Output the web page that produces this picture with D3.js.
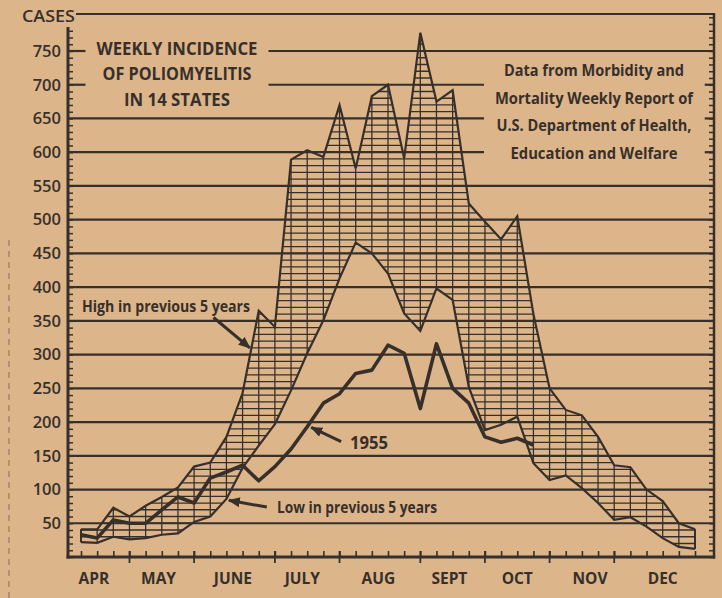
<!DOCTYPE html>
<html>
<head>
<meta charset="utf-8">
<script src="https://cdn.jsdelivr.net/npm/d3@7"></script>
<style>
  body { margin: 0; background: #ddb58b; }
  svg { display: block; }
  text { font-family: "Open Sans", "DejaVu Sans", sans-serif; fill: #37302a; }
</style>
</head>
<body>
<div id="chart"></div>
<script>
// weekly polio cases in 14 states, one value per week from early April to end of December
var weekIndex = d3.range(39);
var highPrev = [41, 41, 73, 60, 76, 89, 103, 134, 140, 178, 243, 365, 341, 589, 603, 593, 670, 576, 683, 700,
                591, 777, 675, 692, 524, 497, 471, 505, 360, 250, 218, 210, 178, 136, 133, 100, 83, 50, 41];
var lowPrev = [22, 21, 30, 26, 28, 33, 35, 52, 60, 86, 132, 165, 197, 247, 302, 351, 413, 466, 450, 420,
               361, 335, 398, 381, 252, 188, 196, 208, 139, 114, 121, 102, 80, 55, 59, 45, 28, 15, 12];
// 1955 only reported up to mid October
var cases1955 = [33, 28, 55, 50, 50, 70, 89, 80, 117, 126, 136, 113, 134, 160, 193, 228, 242, 272, 277, 314,
                 302, 220, 316, 250, 228, 178, 170, 176, 166];

var monthNames = ["APR", "MAY", "JUNE", "JULY", "AUG", "SEPT", "OCT", "NOV", "DEC"];
var monthCenters = [0.8, 4.8, 9.4, 13.7, 18.4, 22.8, 27.0, 31.5, 36.0];   // in weeks
var monthBreaks = [3, 7, 12, 16, 21, 25, 29, 33];
var caseTicks = d3.range(50, 751, 50);

var titleLines = ["WEEKLY INCIDENCE", "OF POLIOMYELITIS", "IN 14 STATES"];
var sourceLines = ["Data from Morbidity and", "Mortality Weekly Report of", "U.S. Department of Health,", "Education and Welfare"];

Polio = function(_parentElement) {
  this.parentElement = _parentElement;
  this.width = 722;
  this.height = 598;
  this.ink = "#37302a";
  this.paper = "#ddb58b";
  this.initVis();
};

Polio.prototype.initVis = function() {
  var vis = this;

  vis.x = d3.scaleLinear()
  .domain([0, 38])
  .range([81, 695]);

  vis.y = d3.scaleLinear()
  .domain([0, 750])
  .range([557, 51]);

  vis.left = 68;
  vis.right = 714;
  vis.top = 14;
  vis.bottom = vis.y(0);

  vis.band = d3.area()
  .x(function(d, i) { return vis.x(i); })
  .y0(function(d, i) { return vis.y(lowPrev[i]); })
  .y1(function(d) { return vis.y(d); });

  vis.line = d3.line()
  .x(function(d, i) { return vis.x(i); })
  .y(function(d) { return vis.y(d); });

  vis.createVis();
};

Polio.prototype.createVis = function() {
  var vis = this;

  vis.svg = d3.select(vis.parentElement).append("svg")
  .attr("width", vis.width)
  .attr("height", vis.height);

  vis.svg.append("rect")
  .attr("width", vis.width)
  .attr("height", vis.height)
  .attr("fill", vis.paper);

  // newspaper fold on the left edge
  vis.svg.append("line")
  .attr("x1", 9).attr("x2", 9)
  .attr("y1", 240).attr("y2", vis.height)
  .attr("stroke", vis.ink)
  .attr("stroke-opacity", 0.35)
  .attr("stroke-width", 1.5)
  .attr("stroke-dasharray", "6 5");

  // text blocks first, so the grid can stop around them
  var title = vis.svg.append("g").attr("class", "title");
  title.selectAll("text")
  .data(titleLines).enter()
  .append("text")
  .attr("x", 177)
  .attr("y", function(d, i) { return [55, 80, 106][i]; })
  .attr("text-anchor", "middle")
  .attr("font-size", 18)
  .attr("font-weight", 700)
  .attr("textLength", function(d, i) { return [161, 149, 106][i]; })
  .attr("lengthAdjust", "spacingAndGlyphs")
  .text(function(d) { return d; });

  var source = vis.svg.append("g").attr("class", "source");
  source.selectAll("text")
  .data(sourceLines).enter()
  .append("text")
  .attr("x", 594)
  .attr("y", function(d, i) { return 76 + i * 27.7; })
  .attr("text-anchor", "middle")
  .attr("font-size", 16)
  .attr("font-weight", 700)
  .attr("textLength", function(d, i) { return [180, 198, 195, 167][i]; })
  .attr("lengthAdjust", "spacingAndGlyphs")
  .text(function(d) { return d; });

  var gaps = [title.node().getBBox(), source.node().getBBox()];

  var grid = vis.svg.append("g").attr("class", "grid");
  caseTicks.forEach(function(v) {
    var yy = vis.y(v);
    var segs = [[vis.left, vis.right]];
    gaps.forEach(function(b) {
      if (yy > b.y - 4 && yy < b.y + b.height + 4) {
        var g0 = b.x - 11, g1 = b.x + b.width + 11;
        var next = [];
        segs.forEach(function(s) {
          if (g1 <= s[0] || g0 >= s[1]) { next.push(s); return; }
          if (g0 > s[0]) next.push([s[0], g0]);
          if (g1 < s[1]) next.push([g1, s[1]]);
        });
        segs = next;
      }
    });
    segs.forEach(function(s) {
      grid.append("line")
      .attr("x1", s[0]).attr("x2", s[1])
      .attr("y1", yy).attr("y2", yy)
      .attr("stroke", vis.ink)
      .attr("stroke-width", 2.2);
    });
  });

  // top frame line and its label
  vis.svg.append("line")
  .attr("x1", 76).attr("x2", vis.right)
  .attr("y1", vis.top).attr("y2", vis.top)
  .attr("stroke", vis.ink)
  .attr("stroke-width", 2.2);

  vis.svg.append("text")
  .attr("x", 75)
  .attr("y", 21.5)
  .attr("text-anchor", "end")
  .attr("font-size", 16)
  .attr("font-weight", 600)
  .attr("textLength", 53)
  .attr("lengthAdjust", "spacingAndGlyphs")
  .text("CASES");

  // hatched band between previous high and low
  vis.svg.append("clipPath")
  .attr("id", "band-clip")
  .append("path")
  .attr("d", vis.band(highPrev));

  var hatch = vis.svg.append("g")
  .attr("clip-path", "url(#band-clip)");

  hatch.selectAll(".hatch-h")
  .data(d3.range(0, 800, 10)).enter()
  .append("line")
  .attr("class", "hatch-h")
  .attr("x1", vis.x(0)).attr("x2", vis.x(38))
  .attr("y1", function(d) { return vis.y(d); })
  .attr("y2", function(d) { return vis.y(d); })
  .attr("stroke", vis.ink)
  .attr("stroke-width", 1.3);

  vis.svg.selectAll(".hatch-v")
  .data(weekIndex).enter()
  .append("line")
  .attr("class", "hatch-v")
  .attr("x1", function(d) { return vis.x(d); })
  .attr("x2", function(d) { return vis.x(d); })
  .attr("y1", function(d) { return vis.y(lowPrev[d]); })
  .attr("y2", function(d) { return vis.y(highPrev[d]); })
  .attr("stroke", vis.ink)
  .attr("stroke-width", 1.3);

  vis.svg.append("path")
  .attr("d", vis.line(highPrev))
  .attr("fill", "none")
  .attr("stroke", vis.ink)
  .attr("stroke-width", 2.2)
  .attr("stroke-linejoin", "miter");

  vis.svg.append("path")
  .attr("d", vis.line(lowPrev))
  .attr("fill", "none")
  .attr("stroke", vis.ink)
  .attr("stroke-width", 2.2);

  // closing edges of the band at both ends
  [0, 38].forEach(function(i) {
    vis.svg.append("line")
    .attr("x1", vis.x(i)).attr("x2", vis.x(i))
    .attr("y1", vis.y(lowPrev[i])).attr("y2", vis.y(highPrev[i]))
    .attr("stroke", vis.ink)
    .attr("stroke-width", 2);
  });

  vis.svg.append("path")
  .attr("d", vis.line(cases1955))
  .attr("fill", "none")
  .attr("stroke", vis.ink)
  .attr("stroke-width", 3.6)
  .attr("stroke-linejoin", "round");

  // axes
  var yMinor = d3.range(0, 790, 10);

  vis.svg.append("g")
  .attr("transform", "translate(" + vis.left + ",0)")
  .call(d3.axisRight(vis.y).tickValues(yMinor).tickSize(5).tickFormat(""))
  .call(function(g) { g.select(".domain").remove(); })
  .selectAll("line").attr("stroke", vis.ink).attr("stroke-width", 1.5);

  vis.svg.append("line")
  .attr("x1", vis.left).attr("x2", vis.left)
  .attr("y1", 27).attr("y2", vis.bottom + 1.5)
  .attr("stroke", vis.ink)
  .attr("stroke-width", 3);

  vis.svg.append("g")
  .attr("transform", "translate(" + vis.left + ",0)")
  .call(d3.axisLeft(vis.y).tickValues(caseTicks).tickSize(0).tickPadding(7))
  .call(function(g) { g.select(".domain").remove(); })
  .selectAll("text")
  .attr("font-family", null)
  .attr("font-size", 16.5)
  .attr("font-weight", 600)
  .attr("fill", vis.ink);

  vis.svg.append("g")
  .attr("transform", "translate(" + vis.right + ",0)")
  .call(d3.axisLeft(vis.y).tickValues(d3.range(0, 810, 10)).tickSize(5).tickFormat(""))
  .call(function(g) { g.select(".domain").remove(); })
  .selectAll("line").attr("stroke", vis.ink).attr("stroke-width", 1.5);

  vis.svg.append("line")
  .attr("x1", vis.right).attr("x2", vis.right)
  .attr("y1", vis.top - 1).attr("y2", vis.bottom + 1.5)
  .attr("stroke", vis.ink)
  .attr("stroke-width", 2.5);

  vis.svg.append("g")
  .attr("transform", "translate(0," + vis.bottom + ")")
  .call(d3.axisTop(vis.x).tickValues(weekIndex).tickSize(6).tickFormat(""))
  .call(function(g) { g.select(".domain").remove(); })
  .selectAll("line").attr("stroke", vis.ink).attr("stroke-width", 1.6);

  vis.svg.selectAll(".month-break")
  .data(monthBreaks).enter()
  .append("line")
  .attr("class", "month-break")
  .attr("x1", function(d) { return vis.x(d); })
  .attr("x2", function(d) { return vis.x(d); })
  .attr("y1", vis.bottom - 6)
  .attr("y2", vis.bottom + 6)
  .attr("stroke", vis.ink)
  .attr("stroke-width", 1.8);

  vis.svg.append("line")
  .attr("x1", vis.left - 1.5).attr("x2", vis.right + 1.2)
  .attr("y1", vis.bottom).attr("y2", vis.bottom)
  .attr("stroke", vis.ink)
  .attr("stroke-width", 3.2);

  vis.svg.selectAll(".month-label")
  .data(monthNames).enter()
  .append("text")
  .attr("class", "month-label")
  .attr("x", function(d, i) { return vis.x(monthCenters[i]); })
  .attr("y", 584)
  .attr("text-anchor", "middle")
  .attr("font-size", 15.5)
  .attr("font-weight", 700)
  .text(function(d) { return d; });

  // annotations
  vis.svg.append("defs").append("marker")
  .attr("id", "head")
  .attr("markerUnits", "userSpaceOnUse")
  .attr("viewBox", "0 0 12 10")
  .attr("refX", 11).attr("refY", 5)
  .attr("markerWidth", 12).attr("markerHeight", 10)
  .attr("orient", "auto")
  .append("path")
  .attr("d", "M0,0 L12,5 L0,10 Z")
  .attr("fill", vis.ink);

  var notes = [
    {label: "High in previous 5 years", tx: 82, ty: 312, w: 168, fs: 16, from: [8.2, 355], to: [10.45, 310]},
    {label: "1955", tx: 350, ty: 449, w: 38, fs: 18, from: [16.1, 171], to: [14.25, 192]},
    {label: "Low in previous 5 years", tx: 277, ty: 513, w: 160, fs: 16, from: [11.5, 74], to: [9.15, 84]}
  ];

  vis.svg.selectAll(".note-arrow")
  .data(notes).enter()
  .append("line")
  .attr("class", "note-arrow")
  .attr("x1", function(d) { return vis.x(d.from[0]); })
  .attr("y1", function(d) { return vis.y(d.from[1]); })
  .attr("x2", function(d) { return vis.x(d.to[0]); })
  .attr("y2", function(d) { return vis.y(d.to[1]); })
  .attr("stroke", vis.ink)
  .attr("stroke-width", 3)
  .attr("marker-end", "url(#head)");

  vis.svg.selectAll(".note-label")
  .data(notes).enter()
  .append("text")
  .attr("class", "note-label")
  .attr("x", function(d) { return d.tx; })
  .attr("y", function(d) { return d.ty; })
  .attr("font-size", function(d) { return d.fs; })
  .attr("font-weight", 700)
  .attr("textLength", function(d) { return d.w; })
  .attr("lengthAdjust", "spacingAndGlyphs")
  .text(function(d) { return d.label; });
};

new Polio("#chart");
</script>
</body>
</html>
